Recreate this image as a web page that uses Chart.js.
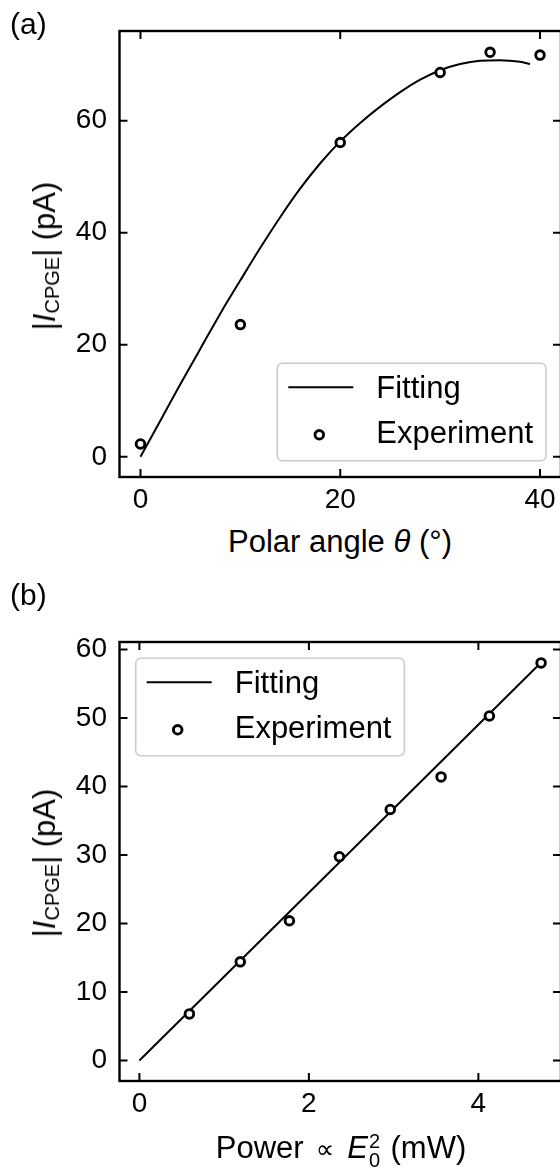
<!DOCTYPE html>
<html><head><meta charset="utf-8">
<script src="https://cdn.jsdelivr.net/npm/chart.js@4.4.1/dist/chart.umd.min.js"></script>
<style>
html,body{margin:0;padding:0;background:#fff;width:560px;height:1171px;overflow:hidden;position:relative;font-family:"Liberation Sans",Arial,sans-serif;color:#000}
canvas{position:absolute;left:0}
.t{position:absolute;white-space:nowrap;font-size:31px;line-height:30px}
.sb{font-size:20px;line-height:0;position:relative;top:4px}
.pr{font-family:"DejaVu Sans";font-size:26px;line-height:0;margin:0 13px 0 12px}
.ss{display:inline-block;position:relative;width:14px;height:0;vertical-align:baseline}
.ss span{position:absolute;left:1px;font-size:20px;line-height:20px}
</style></head><body>
<canvas id="ca" width="580" height="520" style="top:0"></canvas>
<canvas id="cb" width="580" height="571" style="top:600px"></canvas>
<div class="t" style="left:10px;top:9px;font-size:30px">(a)</div>
<div class="t" style="left:10px;top:580px;font-size:30px">(b)</div>
<div class="t" style="left:340px;top:527px;transform:translateX(-50%)">Polar angle <i>θ</i> (°)</div>
<div class="t" style="left:341px;top:1133px;transform:translateX(-50%)">Power<span class="pr">∝</span><i>E</i><span class="ss"><span style="bottom:7px">2</span><span style="bottom:-11.5px">0</span></span> (mW)</div>
<div class="t" style="left:45px;top:256px;transform:translate(-50%,-50%) rotate(-90deg)">|<i>I</i><span class="sb">CPGE</span>| (pA)</div>
<div class="t" style="left:45px;top:863px;transform:translate(-50%,-50%) rotate(-90deg)">|<i>I</i><span class="sb">CPGE</span>| (pA)</div>
<script>
// ---------- data ----------
const legendLabels = ['Fitting', 'Experiment'];

// Panel (a)
const expThetaA = [0, 10, 20, 30, 35, 40];
const expCurrentA = [2.3, 23.6, 56.1, 68.6, 72.2, 71.7];
const fitThetaA = [0, 2, 4, 6, 8, 10, 12, 14, 16, 18, 20, 22, 24, 26, 28, 30, 32, 34, 36, 38, 39];
const fitCurrentA = [0, 6.5, 13.0, 19.3, 25.6, 31.5, 37.3, 42.8, 47.9, 52.4, 56.3, 59.6, 62.5, 65.1, 67.3, 69.0, 70.1, 70.7, 70.8, 70.5, 70.1];
const xTicksA = [0, 20, 40];
const yTicksA = [0, 20, 40, 60];

// Panel (b)
const expPowerB = [0.59, 1.19, 1.77, 2.36, 2.96, 3.56, 4.13, 4.74];
const expCurrentB = [6.8, 14.4, 20.4, 29.75, 36.65, 41.4, 50.3, 58.05];
const fitPowerB = [0, 4.74];
const fitCurrentB = [0, 58.1];
const xTicksB = [0, 2, 4];
const yTicksB = [0, 10, 20, 30, 40, 50, 60];

// ---------- helpers ----------
const FONT = '"Liberation Sans", Arial, sans-serif';
const TICK_LEN = 8;
const MARK_R = 4.3, MARK_W = 2.9;

const framePlugin = {
  id: 'frameLegend',
  afterDatasetsDraw(chart, args, o) {
    const a = chart.chartArea, ctx = chart.ctx;
    const W = 268.7, H = 97.4;
    const bx = o.corner === 'br' ? a.right - o.dx - W : a.left + o.dx;
    const by = o.corner === 'br' ? a.bottom - o.dy - H : a.top + o.dy;
    ctx.save();
    ctx.beginPath();
    ctx.roundRect(bx, by, W, H, 5);
    ctx.fillStyle = 'rgba(255,255,255,0.8)';
    ctx.fill();
    ctx.strokeStyle = '#cccccc';
    ctx.lineWidth = 1.6;
    ctx.stroke();
    ctx.strokeStyle = '#000';
    ctx.lineWidth = 2;
    ctx.beginPath();
    ctx.moveTo(bx + 11, by + 24); ctx.lineTo(bx + 76, by + 24);
    ctx.stroke();
    ctx.beginPath();
    ctx.arc(bx + 42, by + 71.5, MARK_R, 0, Math.PI * 2);
    ctx.fillStyle = '#fff'; ctx.fill();
    ctx.lineWidth = MARK_W; ctx.stroke();
    ctx.fillStyle = '#000';
    ctx.font = '31px ' + FONT;
    ctx.textBaseline = 'alphabetic';
    ctx.textAlign = 'left';
    ctx.fillText(o.labels[0], bx + 99, by + 34.5);
    ctx.fillText(o.labels[1], bx + 99, by + 79.5);
    ctx.restore();
  },
  afterDraw(chart) {
    const a = chart.chartArea, ctx = chart.ctx;
    const xs = chart.scales.x, ys = chart.scales.y;
    ctx.save();
    ctx.strokeStyle = '#000';
    ctx.lineWidth = 2;
    ctx.beginPath();
    xs.ticks.forEach(t => {
      const p = xs.getPixelForValue(t.value);
      ctx.moveTo(p, a.bottom); ctx.lineTo(p, a.bottom - TICK_LEN);
      ctx.moveTo(p, a.top); ctx.lineTo(p, a.top + TICK_LEN);
    });
    ys.ticks.forEach(t => {
      const p = ys.getPixelForValue(t.value);
      ctx.moveTo(a.left, p); ctx.lineTo(a.left + TICK_LEN, p);
      ctx.moveTo(a.right, p); ctx.lineTo(a.right - TICK_LEN, p);
    });
    ctx.stroke();
    ctx.lineWidth = 2.4;
    ctx.strokeRect(a.left, a.top, a.right - a.left, a.bottom - a.top);
    ctx.restore();
  }
};

function makeChart(id, cfg) {
  const pts = (xs, ys) => xs.map((x, i) => ({ x, y: ys[i] }));
  return new Chart(document.getElementById(id), {
    type: 'scatter',
    data: {
      datasets: [
        {
          label: legendLabels[1],
          data: pts(cfg.ex, cfg.ey),
          pointRadius: MARK_R,
          pointBorderWidth: MARK_W,
          pointBackgroundColor: '#fff',
          pointBorderColor: '#000',
          showLine: false,
          order: 0
        },
        {
          label: legendLabels[0],
          data: pts(cfg.fx, cfg.fy),
          showLine: true,
          borderColor: '#000',
          borderWidth: 2,
          pointRadius: 0,
          cubicInterpolationMode: 'monotone',
          order: 1
        }
      ]
    },
    options: {
      responsive: false,
      animation: false,
      devicePixelRatio: 1,
      events: [],
      layout: { padding: { left: 0, right: cfg.padR, top: cfg.padT, bottom: 0 } },
      plugins: {
        legend: { display: false },
        tooltip: { enabled: false },
        frameLegend: { corner: cfg.corner, dx: cfg.ldx, dy: cfg.ldy, labels: legendLabels }
      },
      scales: {
        x: {
          type: 'linear',
          min: cfg.xmin, max: cfg.xmax,
          grid: { display: false, drawTicks: false },
          border: { display: false },
          afterBuildTicks: s => { s.ticks = cfg.xt.map(v => ({ value: v })); },
          afterFit: s => { s.height = cfg.xh; },
          ticks: { color: '#000', font: { family: FONT, size: 28 }, padding: 6, maxRotation: 0 }
        },
        y: {
          type: 'linear',
          min: cfg.ymin, max: cfg.ymax,
          grid: { display: false, drawTicks: false },
          border: { display: false },
          afterBuildTicks: s => { s.ticks = cfg.yt.map(v => ({ value: v })); },
          afterFit: s => { s.width = 119.5; },
          ticks: { color: '#000', font: { family: FONT, size: 28 }, padding: 12.5 }
        }
      }
    },
    plugins: [framePlugin]
  });
}

makeChart('ca', {
  ex: expThetaA, ey: expCurrentA, fx: fitThetaA, fy: fitCurrentA,
  xt: xTicksA, yt: yTicksA,
  xmin: -2.1, xmax: 42.1, ymin: -3.6, ymax: 76.0,
  padR: 19, padT: 31, xh: 520 - 477,
  corner: 'br', ldx: 15, ldy: 16.3
});
makeChart('cb', {
  ex: expPowerB, ey: expCurrentB, fx: fitPowerB, fy: fitCurrentB,
  xt: xTicksB, yt: yTicksB,
  xmin: -0.235, xmax: 4.975, ymin: -3.0, ymax: 61.1,
  padR: 19, padT: 42, xh: 571 - 481,
  corner: 'tl', ldx: 16.2, ldy: 16.3
});
</script>
</body></html>
